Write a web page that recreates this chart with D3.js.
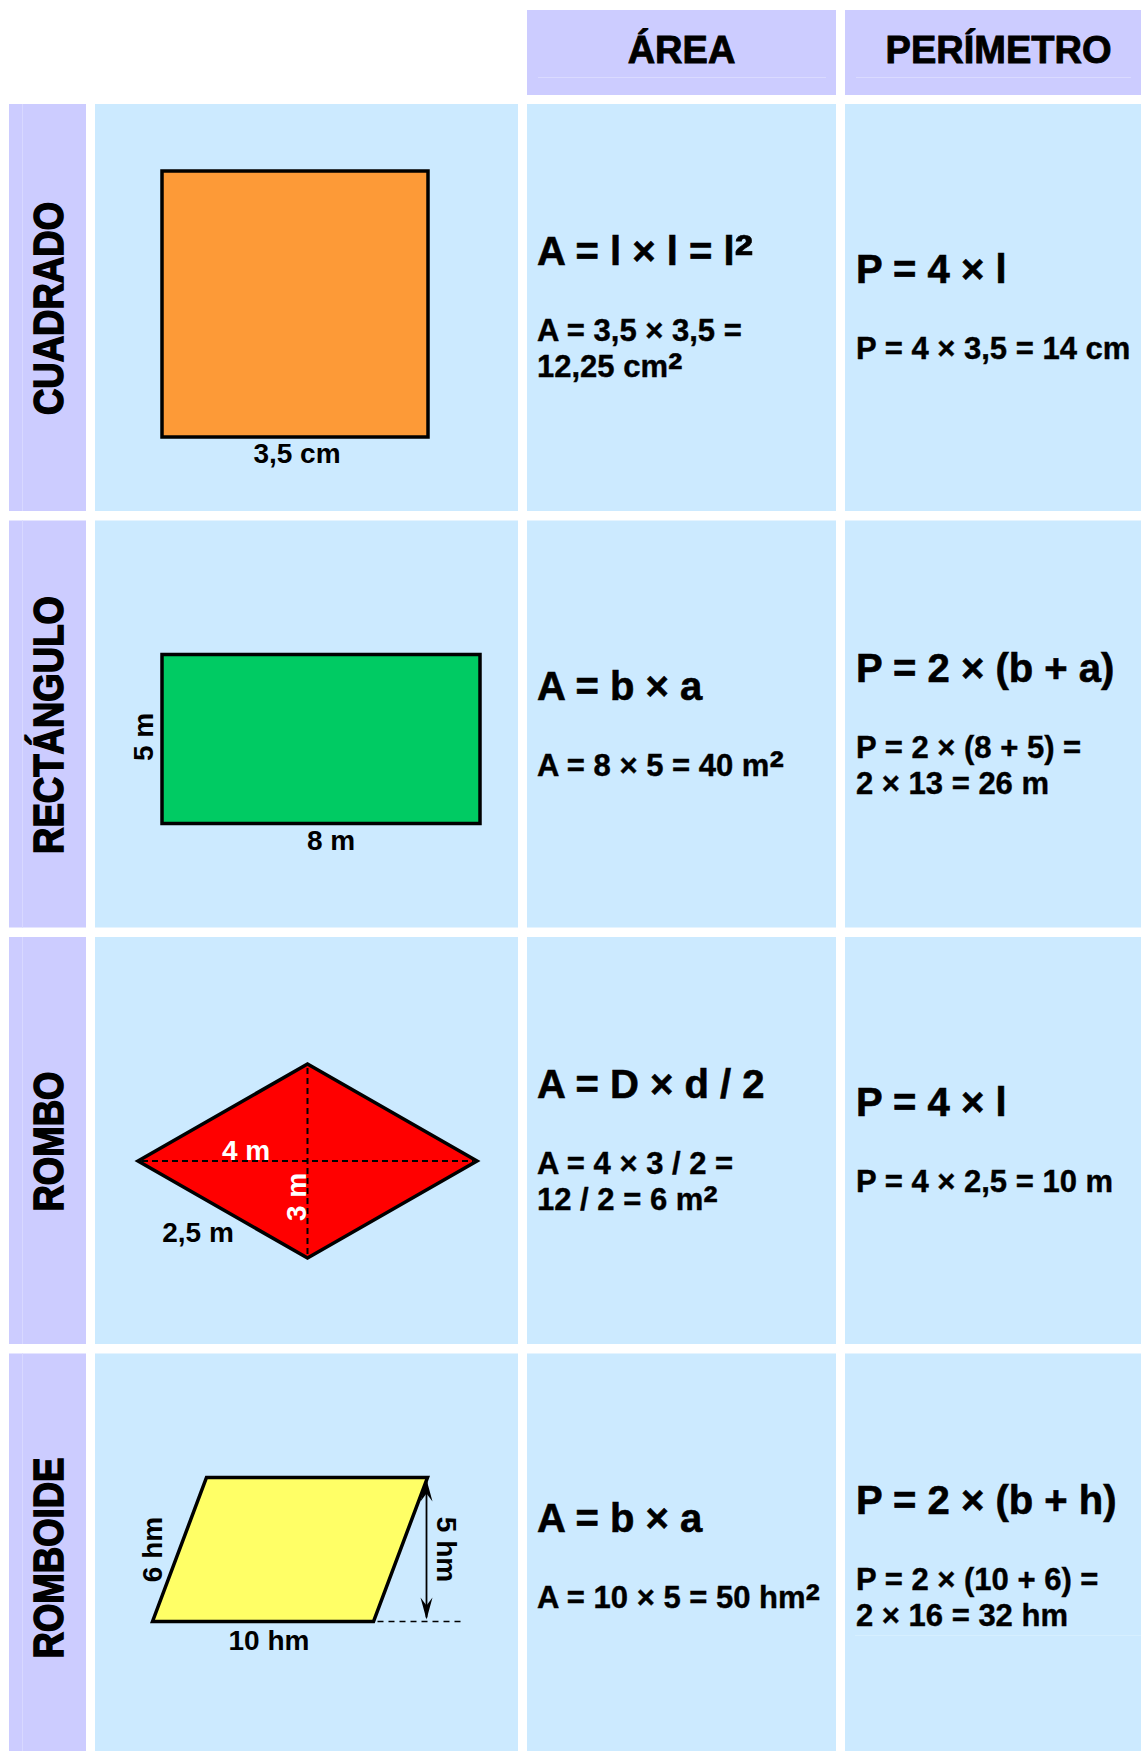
<!DOCTYPE html>
<html>
<head>
<meta charset="utf-8">
<script src="https://cdn.jsdelivr.net/npm/d3@7"></script>
<style>
  body { margin: 0; background: #fff; }
  text { font-family: "Liberation Sans", Arial, sans-serif; font-weight: bold; }
</style>
</head>
<body>
<svg width="1141" height="1751"></svg>
<script>

// Data
var headers = ["ÁREA", "PERÍMETRO"];
var shapes = ["CUADRADO", "RECTÁNGULO", "ROMBO", "ROMBOIDE"];
var areaFormulas = ["A = l × l = l²", "A = b × a", "A = D × d / 2", "A = b × a"];
var areaExamples = [
    ["A = 3,5 × 3,5 =", "12,25 cm²"],
    ["A = 8 × 5 = 40 m²"],
    ["A = 4 × 3 / 2 =", "12 / 2 = 6 m²"],
    ["A = 10 × 5 = 50 hm²"]
];
var perimFormulas = ["P = 4 × l", "P = 2 × (b + a)", "P = 4 × l", "P = 2 × (b + h)"];
var perimExamples = [
    ["P = 4 × 3,5 = 14 cm"],
    ["P = 2 × (8 + 5) =", "2 × 13 = 26 m"],
    ["P = 4 × 2,5 = 10 m"],
    ["P = 2 × (10 + 6) =", "2 × 16 = 32 hm"]
];

// shape measures
var squareSide = 3.5;            // cm
var rectSides = [8, 5];          // m  (b, a)
var rhombusDiagonals = [4, 3];   // m  (D, d)
var rhombusSide = 2.5;           // m
var romboideSides = [10, 5, 6];  // hm (b, h, lado)
var squareLabels = ["3,5 cm"];
var rectLabels = ["8 m", "5 m"];
var rhombusLabels = ["4 m", "3 m", "2,5 m"];
var romboideLabels = ["10 hm", "5 hm", "6 hm"];

// The svg
var svg = d3.select("svg"),
    width = +svg.attr("width"),
    height = +svg.attr("height");

var lavender = "#ccccff",
    lightBlue = "#cceaff";

// columns
var col = {
    label: [9, 86],
    shape: [95, 518],
    area: [527, 836],
    perim: [845, 1152]
};

// rows
var y = d3.scaleBand()
    .domain(shapes)
    .range([104, 1760.5])
    .paddingInner(0.0228);

// writes a string, enlarging the "²" like the original
function setText(t, str, size) {
    var parts = str.split("²");
    t.append("tspan").text(parts[0]);
    if (parts.length > 1) {
        t.append("tspan")
            .style("font-size", (size * 1.4) + "px")
            .attr("dy", size * 0.22)
            .text("²");
    }
}

// Header cells
var headerCols = [col.area, col.perim];
var header = svg.append("g");
header.selectAll("rect")
    .data(headers)
    .enter()
    .append("rect")
    .attr("x", function (d, i) { return headerCols[i][0]; })
    .attr("y", 10)
    .attr("width", function (d, i) { return headerCols[i][1] - headerCols[i][0]; })
    .attr("height", 85)
    .attr("fill", lavender);
header.selectAll("line")
    .data(headers)
    .enter()
    .append("line")
    .attr("x1", function (d, i) { return headerCols[i][0] + 11; })
    .attr("x2", function (d, i) { return Math.min(headerCols[i][1], width) - 10; })
    .attr("y1", 77.5).attr("y2", 77.5)
    .attr("stroke", "#dadaff")
    .attr("stroke-width", 1);
header.selectAll("text")
    .data(headers)
    .enter()
    .append("text")
    .attr("x", function (d, i) { return (headerCols[i][0] + headerCols[i][1]) / 2; })
    .attr("y", 63)
    .attr("text-anchor", "middle")
    .style("font-size", "38px")
    .attr("fill", "#000")
    .attr("stroke", "#000")
    .attr("stroke-width", 0.9)
    .text(function (d) { return d; });

// Rows
var rows = svg.append("g")
    .selectAll("g")
    .data(shapes)
    .enter()
    .append("g");

// background cells
[["label", lavender], ["shape", lightBlue], ["area", lightBlue], ["perim", lightBlue]].forEach(function (c) {
    rows.append("rect")
        .attr("x", col[c[0]][0])
        .attr("y", function (d) { return y(d); })
        .attr("width", col[c[0]][1] - col[c[0]][0])
        .attr("height", y.bandwidth())
        .attr("fill", c[1]);
});

// faint stripe in label column
rows.append("line")
    .attr("x1", 22.5).attr("x2", 22.5)
    .attr("y1", function (d) { return y(d); })
    .attr("y2", function (d) { return y(d) + y.bandwidth(); })
    .attr("stroke", "#d8d8ff")
    .attr("stroke-width", 1);

// rotated row labels
rows.append("text")
    .attr("transform", function (d) {
        return "translate(63," + (y(d) + y.bandwidth() / 2 + 1) + ") rotate(-90) scale(0.87,1)";
    })
    .attr("text-anchor", "middle")
    .style("font-size", "42px")
    .attr("fill", "#000")
    .attr("stroke", "#000")
    .attr("stroke-width", 1.6)
    .text(function (d) { return d; });

// formula blocks, centred vertically in the row
var capH = 29, gapFormula = 76, lineH = 36;
function formulaBlock(x0, formulas, examples) {
    rows.each(function (d, i) {
        var g = d3.select(this);
        var n = examples[i].length;
        var blockH = capH + gapFormula + lineH * (n - 1);
        var base = y(d) + y.bandwidth() / 2 - blockH / 2 + capH - 1;
        var f = g.append("text")
            .attr("x", x0)
            .attr("y", base)
            .style("font-size", "40px")
            .attr("fill", "#000")
            .attr("stroke", "#000")
            .attr("stroke-width", 0.6);
        setText(f, formulas[i], 40);
        examples[i].forEach(function (e, j) {
            var t = g.append("text")
                .attr("x", x0)
                .attr("y", base + gapFormula + j * lineH)
                .style("font-size", "31px")
                .attr("fill", "#000")
                .attr("stroke", "#000")
                .attr("stroke-width", 0.4);
            setText(t, e, 31);
        });
    });
}
formulaBlock(col.area[0] + 10, areaFormulas, areaExamples);
formulaBlock(col.perim[0] + 11, perimFormulas, perimExamples);

// faint line under last perimeter block
svg.append("line")
    .attr("x1", col.perim[0] + 10).attr("x2", width)
    .attr("y1", 1635.5).attr("y2", 1635.5)
    .attr("stroke", "#d6efff")
    .attr("stroke-width", 1);

// helper for shape labels
function label(g, txt, x, yy, opts) {
    opts = opts || {};
    var t = g.append("text")
        .attr("text-anchor", "middle")
        .style("font-size", "28px")
        .attr("fill", opts.fill || "#000")
        .text(txt);
    if (opts.rotate) {
        t.attr("transform", "translate(" + x + "," + yy + ") rotate(" + opts.rotate + ")");
    } else {
        t.attr("x", x).attr("y", yy);
    }
    return t;
}

var shapeG = svg.append("g");
var cellX = col.shape[0];

// Cuadrado
var sq = d3.scaleLinear().domain([0, squareSide]).range([0, 266]);
var sqCx = cellX + 200, sqCy = y(shapes[0]) + 200;
shapeG.append("rect")
    .attr("x", sqCx - sq(squareSide) / 2)
    .attr("y", sqCy - sq(squareSide) / 2)
    .attr("width", sq(squareSide))
    .attr("height", sq(squareSide))
    .attr("fill", "#fd9a37")
    .attr("stroke", "#000")
    .attr("stroke-width", 3.5);
label(shapeG, squareLabels[0], sqCx + 2, sqCy + sq(squareSide) / 2 + 26);

// Rectángulo
var rx = d3.scaleLinear().domain([0, rectSides[0]]).range([0, 318]);
var ry = d3.scaleLinear().domain([0, rectSides[1]]).range([0, 169]);
var rCx = cellX + 226, rCy = y(shapes[1]) + 218.5;
var rLeft = rCx - rx(rectSides[0]) / 2, rTop = rCy - ry(rectSides[1]) / 2;
shapeG.append("rect")
    .attr("x", rLeft)
    .attr("y", rTop)
    .attr("width", rx(rectSides[0]))
    .attr("height", ry(rectSides[1]))
    .attr("fill", "#00cb63")
    .attr("stroke", "#000")
    .attr("stroke-width", 3.5);
label(shapeG, rectLabels[0], rCx + 10, rTop + ry(rectSides[1]) + 27);
label(shapeG, rectLabels[1], rLeft - 9, rCy - 2, { rotate: -90 });

// Rombo
var dx = d3.scaleLinear().domain([0, rhombusDiagonals[0]]).range([0, 339]);
var dy = d3.scaleLinear().domain([0, rhombusDiagonals[1]]).range([0, 194]);
var mCx = cellX + 212.5, mCy = y(shapes[2]) + 224;
var hD = dx(rhombusDiagonals[0]) / 2, hd = dy(rhombusDiagonals[1]) / 2;
var rhombusPts = [[mCx - hD, mCy], [mCx, mCy - hd], [mCx + hD, mCy], [mCx, mCy + hd]];
shapeG.append("path")
    .attr("d", d3.line()(rhombusPts) + "Z")
    .attr("fill", "#ff0000")
    .attr("stroke", "#000")
    .attr("stroke-width", 3.5)
    .attr("stroke-linejoin", "miter");
shapeG.append("line")
    .attr("x1", mCx - hD + 4).attr("x2", mCx + hD - 4)
    .attr("y1", mCy).attr("y2", mCy)
    .attr("stroke", "#000").attr("stroke-width", 2)
    .attr("stroke-dasharray", "6,4");
shapeG.append("line")
    .attr("x1", mCx).attr("x2", mCx)
    .attr("y1", mCy - hd + 4).attr("y2", mCy + hd - 4)
    .attr("stroke", "#000").attr("stroke-width", 2)
    .attr("stroke-dasharray", "6,4");
label(shapeG, rhombusLabels[0], mCx - hD + 108, mCy - 1, { fill: "#fff" });
label(shapeG, rhombusLabels[1], mCx - 2, mCy + 36, { fill: "#fff", rotate: -90 });
label(shapeG, rhombusLabels[2], mCx - hD + 60, mCy + 81);

// Romboide
var bx = d3.scaleLinear().domain([0, romboideSides[0]]).range([0, 221]);
var by = d3.scaleLinear().domain([0, romboideSides[1]]).range([0, 144]);
var skew = 54;
var pCx = cellX + 195, pCy = y(shapes[3]) + 196;
var pW = bx(romboideSides[0]), pH = by(romboideSides[1]);
var pLeft = pCx - (pW + skew) / 2, pTop = pCy - pH / 2, pBot = pCy + pH / 2;
var romboidePts = [[pLeft, pBot], [pLeft + skew, pTop], [pLeft + skew + pW, pTop], [pLeft + pW, pBot]];
shapeG.append("path")
    .attr("d", d3.line()(romboidePts) + "Z")
    .attr("fill", "#ffff66")
    .attr("stroke", "#000")
    .attr("stroke-width", 3.5);
// dashed base extension
shapeG.append("line")
    .attr("x1", pLeft + pW + 4).attr("x2", pLeft + pW + 87)
    .attr("y1", pBot).attr("y2", pBot)
    .attr("stroke", "#000").attr("stroke-width", 1.5)
    .attr("stroke-dasharray", "6,5");
// height arrow
var ax = pLeft + skew + pW - 1;
shapeG.append("line")
    .attr("x1", ax).attr("x2", ax)
    .attr("y1", pTop + 4).attr("y2", pBot - 4)
    .attr("stroke", "#000").attr("stroke-width", 1.8);
[[pTop + 2, 1], [pBot - 2, -1]].forEach(function (a) {
    shapeG.append("path")
        .attr("d", "M0,0 L-6," + (22 * a[1]) + " L0," + (14 * a[1]) + " L6," + (22 * a[1]) + " Z")
        .attr("transform", "translate(" + ax + "," + a[0] + ")")
        .attr("fill", "#000");
});
label(shapeG, romboideLabels[0], pLeft + pW / 2 + 6, pBot + 29);
label(shapeG, romboideLabels[1], ax + 10, pCy, { rotate: 90 });
label(shapeG, romboideLabels[2], pLeft + skew / 2 - 18, pCy, { rotate: -90 });

</script>
</body>
</html>
